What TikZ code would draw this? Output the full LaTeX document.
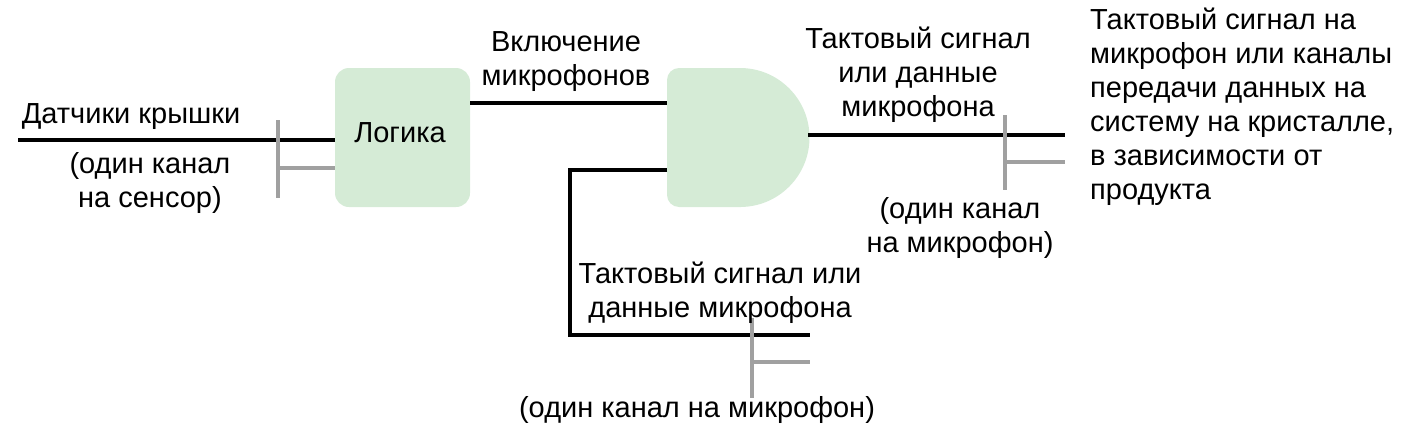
\documentclass[tikz,border=0pt]{standalone}
\usepackage{fontspec}
\setmainfont{Liberation Sans}
\definecolor{boxg}{HTML}{D5EBD6}
\definecolor{gr}{HTML}{A0A0A0}
\begin{document}
\begin{tikzpicture}[x=1pt,y=-1pt,
  wire/.style={line width=4.5pt,black},
  gwire/.style={line width=4.5pt,gr},
  lbl/.style={font=\fontsize{29}{34}\selectfont,align=center,inner sep=0pt}]
\useasboundingbox (0,0) rectangle (1410,431);
\node[fill=boxg,rounded corners=14pt,minimum width=135pt,minimum height=139pt,inner sep=0pt] (logic) at (402.5,137.5) {};
\node[lbl] (logict) at (400,133) {Логика};
\fill[boxg] (741,68) [rounded corners=12pt] -- (667,68) -- (667,207) [sharp corners] -- (741,207) -- cycle;
\fill[boxg] (740,68) arc (-90:90:69.5) -- cycle;
\coordinate (a1) at (18,140); \coordinate (a2) at (335,140);
\draw[wire] (a1) -- (a2);
\coordinate (b1) at (278,120); \coordinate (b2) at (278,198);
\coordinate (b3) at (278,168); \coordinate (b4) at (335,168);
\draw[gwire] (b1) -- (b2) (b3) -- (b4);
\coordinate (c1) at (470,103); \coordinate (c2) at (667,103);
\draw[wire] (c1) -- (c2);
\coordinate (d1) at (808,135); \coordinate (d2) at (1065,135);
\draw[wire] (d1) -- (d2);
\coordinate (e1) at (1005,115); \coordinate (e2) at (1005,190);
\coordinate (e3) at (1005,162); \coordinate (e4) at (1065,162);
\draw[gwire] (e1) -- (e2) (e3) -- (e4);
\coordinate (f1) at (667,170); \coordinate (f2) at (570,170);
\coordinate (f3) at (570,335); \coordinate (f4) at (810,335);
\draw[wire] (f1) -- (f2) -- (f3) -- (f4);
\coordinate (h1) at (752,318); \coordinate (h2) at (752,398);
\coordinate (h3) at (752,362); \coordinate (h4) at (810,362);
\draw[gwire] (h1) -- (h2) (h3) -- (h4);
\node[lbl] (t1) at (131,117) {Датчики крышки};
\node[lbl] (t2) at (150,183) {(один канал\\на сенсор)};
\node[lbl] (t3) at (566,62) {Включение\\микрофонов};
\node[lbl] (t4) at (918,75) {Тактовый сигнал\\или данные\\микрофона};
\node[lbl] (t5) at (960,228) {(один канал\\на микрофон)};
\node[lbl,align=left,anchor=north west] (t6) at (1090,8) {Тактовый сигнал на\\микрофон или каналы\\передачи данных на\\систему на кристалле,\\в зависимости от\\продукта};
\node[lbl] (t7) at (720,293) {Тактовый сигнал или\\данные микрофона};
\node[lbl] (t8) at (697,410) {(один канал на микрофон)};
\end{tikzpicture}
\end{document}
